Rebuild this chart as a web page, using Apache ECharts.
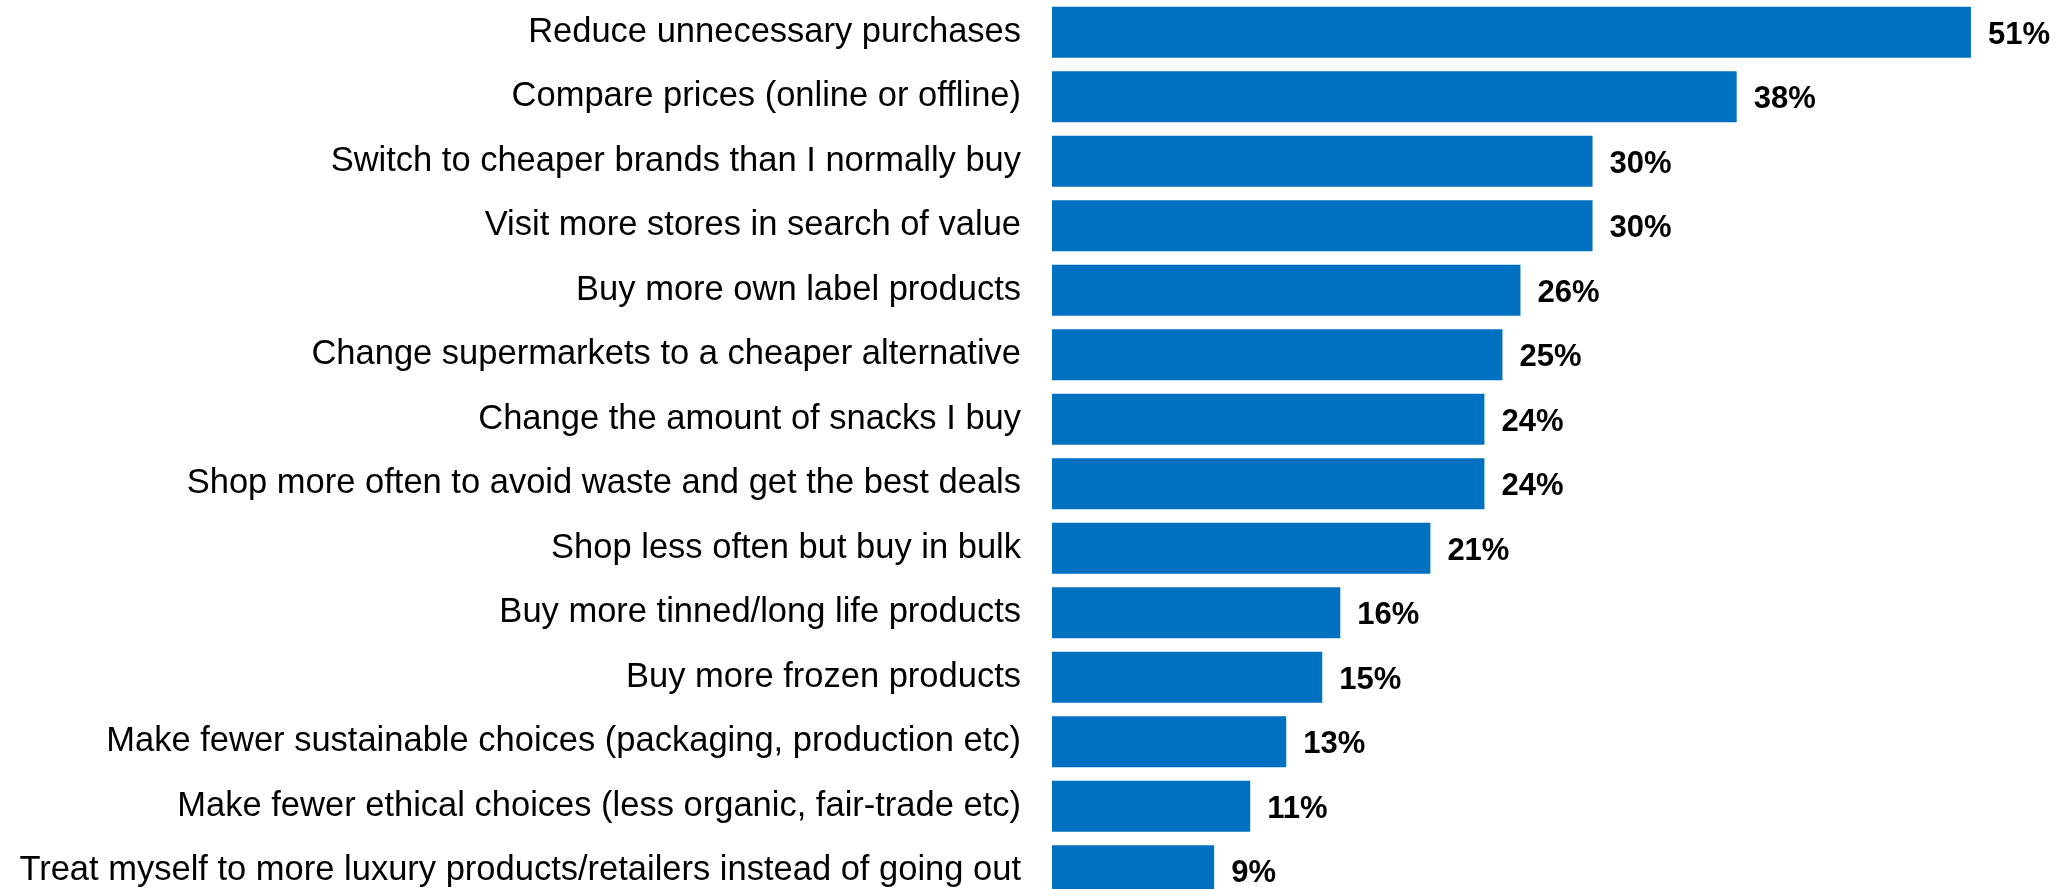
<!DOCTYPE html>
<html>
<head>
<meta charset="utf-8">
<script src="https://cdn.jsdelivr.net/npm/echarts@6/dist/echarts.min.js"></script>
<style>
  html, body { margin: 0; padding: 0; background: #ffffff; overflow: hidden; }
  #chart { width: 2069px; height: 889px; }
</style>
</head>
<body>
<div id="chart"></div>
<script>
// Actions shoppers say they are taking, share of respondents (%)
const categories = [
  'Reduce unnecessary purchases',
  'Compare prices (online or offline)',
  'Switch to cheaper brands than I normally buy',
  'Visit more stores in search of value',
  'Buy more own label products',
  'Change supermarkets to a cheaper alternative',
  'Change the amount of snacks I buy',
  'Shop more often to avoid waste and get the best deals',
  'Shop less often but buy in bulk',
  'Buy more tinned/long life products',
  'Buy more frozen products',
  'Make fewer sustainable choices (packaging, production etc)',
  'Make fewer ethical choices (less organic, fair-trade etc)',
  'Treat myself to more luxury products/retailers instead of going out'
];
const values = [51, 38, 30, 30, 26, 25, 24, 24, 21, 16, 15, 13, 11, 9];

const chart = echarts.init(document.getElementById('chart'), null, { renderer: 'canvas' });

chart.setOption({
  animation: false,
  backgroundColor: '#ffffff',
  grid: { left: 1052, top: 0, width: 1009, height: 903, outerBoundsMode: 'none', containLabel: false },
  xAxis: {
    type: 'value',
    min: 0,
    max: 56,
    show: false
  },
  yAxis: {
    type: 'category',
    data: categories,
    inverse: true,
    axisLine: { show: false },
    axisTick: { show: false },
    splitLine: { show: false },
    axisLabel: {
      margin: 31,
      padding: [5, 0, 0, 0],
      color: '#000000',
      fontFamily: 'Liberation Sans',
      fontSize: 34.5
    }
  },
  series: [{
    type: 'bar',
    data: values,
    barWidth: 51,
    itemStyle: { color: '#0070C0' },
    label: {
      show: true,
      position: 'right',
      distance: 17,
      offset: [0, 3],
      formatter: '{c}%',
      color: '#000000',
      fontFamily: 'Liberation Sans',
      fontWeight: 'bold',
      fontSize: 31
    }
  }]
});
</script>
</body>
</html>
